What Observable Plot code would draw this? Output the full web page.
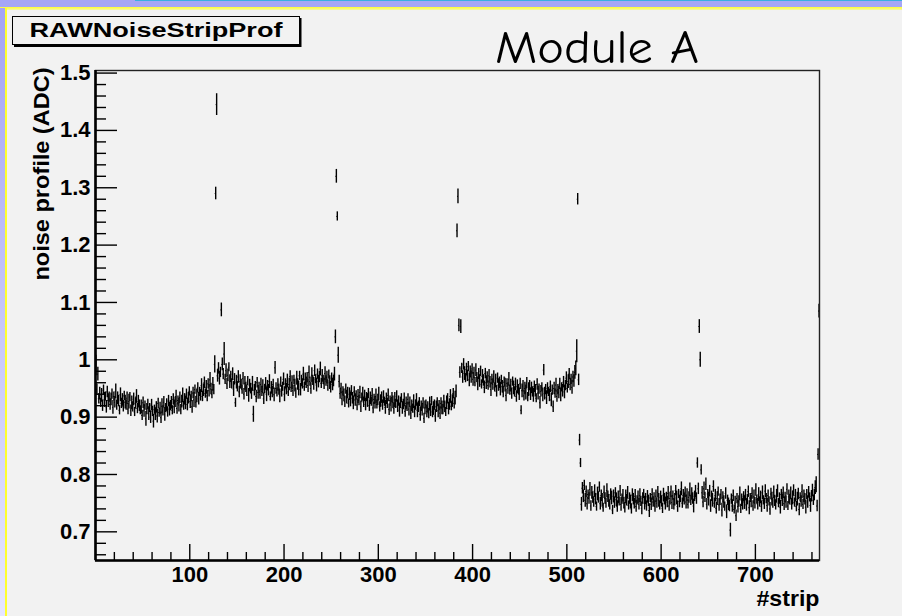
<!DOCTYPE html>
<html><head><meta charset="utf-8">
<script src="https://cdn.jsdelivr.net/npm/d3@7"></script>
<script src="https://cdn.jsdelivr.net/npm/@observablehq/plot@0.6"></script>
<style>
html,body{margin:0;padding:0;background:#f2f2f2;}
#page{position:relative;width:902px;height:616px;overflow:hidden;background:#f2f2f2;}
.deco{position:absolute;}
#chart{position:absolute;left:0;top:0;}
#head{position:absolute;left:0;top:0;pointer-events:none;overflow:visible;}
</style></head><body>
<div id="page">
  <div class="deco" style="left:0;top:0;width:902px;height:8px;background:#a6a6f6"></div>
  <div class="deco" style="left:135px;top:0;width:767px;height:1px;background:#38b0e0"></div>
  <div class="deco" style="left:0;top:7px;width:902px;height:3px;background:linear-gradient(#ffff30,#f6f6a8)"></div>
  <div class="deco" style="left:0;top:8px;width:5px;height:608px;background:linear-gradient(#a4a4f4,#e6e6ff)"></div>
  <div class="deco" style="left:5px;top:8px;width:2px;height:608px;background:#ffff30"></div>
  <div id="chart"></div>
  <svg id="head" width="902" height="110"></svg>
</div>
<script>
// ---- texts ----
const histTitle = "RAWNoiseStripProf";
const moduleTitle = "Module A";
const xTitle = "#strip";
const yTitle = "noise profile (ADC)";

// ---- tick values / labels ----
const xTickValues = [100, 200, 300, 400, 500, 600, 700];
const xTickLabels = ["100", "200", "300", "400", "500", "600", "700"];
const yTickValues = [0.7, 0.8, 0.9, 1.0, 1.1, 1.2, 1.3, 1.4, 1.5];
const yTickLabels = ["0.7", "0.8", "0.9", "1", "1.1", "1.2", "1.3", "1.4", "1.5"];

// ---- noise per strip, in 1/1000 ADC, one array per APV chip (128 strips each) ----
const apv1Noise = [
990,948,975,932,941,925,938,920,947,930,936,918,944,929,935,922,
931,940,917,936,926,945,921,933,928,912,939,924,930,919,937,926,
921,933,914,927,935,911,925,918,931,909,924,936,915,927,920,912,
918,903,925,911,920,897,914,922,906,916,900,921,910,893,913,905,
917,902,924,908,915,899,919,911,926,905,916,921,909,928,914,920,
925,912,931,918,926,936,915,929,921,934,913,927,938,920,931,925,
940,922,933,945,927,936,918,942,930,948,926,937,951,932,944,938,
955,936,947,960,941,952,937,958,946,965,949,940,957,948,992,1290];
const apv2Noise = [
1445,972,985,968,978,1087,992,975,1010,966,981,958,973,987,962,970,
958,975,949,966,925,961,953,970,944,962,957,948,967,940,959,952,
946,963,938,955,950,941,958,905,947,954,936,960,943,951,939,957,
945,953,932,949,958,940,955,947,962,936,951,944,957,939,986,950,
943,956,948,937,961,945,953,966,940,958,949,963,944,957,971,952,
960,946,965,955,942,968,957,950,972,948,963,958,975,953,966,960,
969,955,978,962,950,973,964,958,981,966,956,975,962,970,984,959,
972,965,958,976,963,969,955,974,960,952,968,957,963,975,1040,1320];
const apv3Noise = [
1250,1008,962,941,950,932,945,938,927,949,935,942,924,940,931,946,
933,925,944,930,938,921,936,929,943,918,934,940,926,937,922,935,
929,941,920,933,927,938,916,931,925,936,922,930,940,918,928,934,
921,935,927,917,932,924,938,913,929,921,934,926,915,930,923,936,
919,928,912,925,933,916,922,930,910,924,918,931,914,926,907,920,
915,927,909,921,930,912,918,926,905,919,913,924,898,916,922,910,
917,906,923,912,928,909,915,921,902,918,926,911,920,907,924,916,
913,927,918,909,925,932,915,922,936,919,928,941,924,933,945,1225];
const apv4Noise = [
1285,1060,978,1058,985,970,992,976,968,983,972,988,965,979,970,984,
966,977,961,982,969,958,975,963,980,957,971,964,952,976,960,969,
955,972,961,948,966,957,970,952,963,945,968,956,960,949,965,953,
944,961,956,938,959,950,966,947,955,941,962,951,944,957,936,953,
948,940,958,912,946,954,937,950,943,959,935,948,955,940,951,944,
938,953,946,933,957,942,949,925,945,952,939,982,941,948,934,950,
944,938,953,930,947,918,950,941,956,936,948,943,958,939,952,946,
961,944,955,968,950,962,975,957,966,952,970,963,978,985,1015,1280];
const apv5Noise = [
965,860,820,748,776,762,781,755,770,749,765,758,774,745,768,760,
752,771,757,744,766,760,778,749,763,755,742,769,758,750,772,761,
754,747,765,759,738,762,751,768,756,744,760,753,771,748,757,763,
750,742,761,755,768,746,758,752,740,764,757,749,762,744,755,760,
748,763,753,741,758,766,750,757,745,761,754,737,759,748,765,752,
756,744,762,750,769,755,746,760,753,741,764,757,749,761,752,767,
745,758,770,751,763,748,756,772,759,744,766,753,761,775,750,763,
757,769,752,764,748,760,773,755,766,758,745,762,770,758,820,775];
const apv6Noise = [
1058,1000,808,768,752,775,760,783,748,766,757,771,745,762,755,779,
750,763,741,758,770,747,756,765,738,760,752,744,767,735,755,748,
745,703,757,745,763,739,750,728,758,744,753,766,740,755,748,761,
751,764,747,756,770,742,759,753,767,745,761,750,773,756,748,765,
752,760,744,768,755,749,771,758,746,763,753,740,766,757,750,769,
754,747,762,771,750,758,743,765,755,768,749,760,752,774,745,761,
756,767,748,759,772,751,763,744,757,766,739,760,753,770,748,762,
757,743,765,752,769,760,746,762,772,755,764,777,782,745,835,1085];

// ---- error bar half-lengths, in 1/1000 ADC ----
const apv1Err = [
18,10,12,9,11,8,12,10,9,13,8,11,10,12,9,10,
11,9,12,8,10,13,9,11,10,8,12,9,11,10,8,12,
9,11,10,13,8,10,12,9,11,8,10,12,9,11,10,8,
12,9,10,11,8,13,10,9,12,8,11,10,9,12,8,11,
10,12,9,8,11,10,13,9,10,12,8,11,9,10,12,9,
11,8,10,12,9,11,10,8,12,10,9,11,13,8,10,12,
9,11,10,8,12,9,11,10,13,8,10,12,9,11,8,10,
12,9,11,10,8,12,10,9,11,13,10,8,12,9,15,11];
const apv2Err = [
19,11,10,12,9,12,11,10,20,9,12,10,11,8,12,10,
9,11,13,10,8,12,9,11,10,12,9,8,11,10,12,9,
10,8,12,11,9,10,13,14,10,8,11,9,12,10,8,11,
9,12,10,8,11,13,9,10,12,8,11,10,9,12,11,10,
8,11,10,12,9,10,8,11,13,9,10,12,8,11,10,9,
12,10,8,11,9,12,10,13,8,11,10,9,12,8,11,10,
9,12,11,8,10,13,9,11,10,8,12,9,11,10,12,9,
11,8,10,12,9,11,10,8,12,10,9,11,10,12,12,12];
const apv3Err = [
8,14,11,10,9,12,8,11,10,9,12,10,8,11,13,9,
10,12,9,11,8,10,12,9,11,10,8,12,9,10,11,8,
12,9,10,11,8,12,10,9,11,13,8,10,12,9,11,10,
9,11,8,12,10,9,11,10,8,12,9,11,10,13,8,10,
11,9,12,10,8,11,9,12,10,11,8,10,12,9,11,10,
8,12,10,9,11,13,10,8,12,9,11,10,9,12,8,11,
10,9,12,11,8,10,12,9,11,10,8,12,9,11,10,12,
9,11,10,8,12,9,11,10,12,8,11,9,10,12,11,12];
const apv4Err = [
13,11,10,12,9,11,10,12,8,11,10,9,12,10,11,9,
12,10,8,11,9,12,10,11,9,8,12,10,11,9,12,10,
8,11,10,12,9,10,11,8,12,10,9,11,10,12,8,11,
10,9,12,11,8,10,12,9,11,10,8,12,9,11,10,12,
9,11,10,8,12,10,9,11,13,10,8,12,9,11,10,9,
12,10,11,8,10,12,9,11,10,8,12,10,11,9,12,10,
8,11,10,12,9,10,11,8,12,10,9,11,10,12,8,11,
10,12,9,11,8,12,10,11,9,12,10,11,12,13,20,10];
const apv5Err = [
10,10,8,12,10,11,9,12,10,11,8,10,12,9,11,10,
9,11,10,8,12,10,9,11,10,12,8,11,10,9,12,10,
11,9,10,12,8,11,10,9,12,10,11,8,10,12,9,11,
10,9,12,10,11,8,10,12,9,11,10,9,12,10,8,11,
10,12,9,11,10,8,12,10,9,11,10,12,8,11,10,9,
12,10,11,9,10,12,8,11,10,9,12,10,11,8,10,12,
9,11,10,12,8,10,11,9,12,10,8,11,10,12,9,11,
10,9,12,11,8,10,12,9,11,10,12,9,11,10,9,10];
const apv6Err = [
12,13,9,11,10,12,9,11,10,8,12,10,11,9,12,10,
9,11,10,12,8,11,10,9,12,10,11,8,10,12,9,11,
10,12,9,11,10,8,12,10,9,11,10,12,8,11,10,9,
12,10,11,9,10,12,8,11,10,9,12,10,11,8,10,12,
9,11,10,12,8,10,11,9,12,10,8,11,10,12,9,11,
10,9,12,11,8,10,12,9,11,10,12,9,11,10,8,12,
9,11,10,12,10,8,11,9,12,10,11,8,10,12,9,11,
10,12,9,11,10,8,12,10,11,9,10,12,14,10,10,12];

// ---- build table ----
const chipNoise = [apv1Noise, apv2Noise, apv3Noise, apv4Noise, apv5Noise, apv6Noise];
const chipErr = [apv1Err, apv2Err, apv3Err, apv4Err, apv5Err, apv6Err];
chipNoise.forEach((a, c) => { if (a.length !== 128 || chipErr[c].length !== 128) throw new Error("chip " + (c+1) + " length " + a.length + "/" + chipErr[c].length); });
const bins = [];
chipNoise.forEach((vals, c) => vals.forEach((v, i) => {
  const s = c * 128 + i, e = chipErr[c][i];
  bins.push({strip: s, xc: s + 0.5, x0: s, x1: s + 1, v: v / 1000, lo: (v - e) / 1000, hi: (v + e) / 1000});
}));

const yMinor = d3.range(33, 76).map(k => k * 0.02).filter(v => v > 0.65 && v <= 1.5 && !yTickValues.some(t => Math.abs(t - v) < 1e-6));
const xMinor = d3.range(20, 768, 20).filter(v => v % 100 !== 0);

const font = "'Liberation Sans', Arial, Helvetica, sans-serif";
const chart = Plot.plot({
  width: 902, height: 616,
  marginLeft: 95, marginRight: 83, marginTop: 70, marginBottom: 56,
  style: {background: "transparent", fontFamily: font, fontWeight: "bold", fontSize: "22px", color: "#000", overflow: "visible"},
  x: {domain: [0, 768]},
  y: {domain: [0.65, 1.5045]},
  marks: [
    Plot.ruleX(bins, {x: "xc", y1: "lo", y2: "hi", stroke: "#000", strokeWidth: 1.4}),
    Plot.ruleY(bins, {y: "v", x1: "x0", x2: "x1", stroke: "#000", strokeWidth: 1}),
    Plot.frame({stroke: "#222", strokeWidth: 1.4}),
    Plot.ruleX([0], {stroke: "#000", strokeWidth: 2.6}),
    Plot.ruleY([0.65], {stroke: "#000", strokeWidth: 2.6}),
    Plot.axisY(yTickValues, {anchor: "left", tickSize: -22, fill: "none", label: null, strokeWidth: 1.4}),
    Plot.axisY(yMinor, {anchor: "left", tickSize: -11, fill: "none", label: null, strokeWidth: 1.4}),
    Plot.axisY(yTickValues, {anchor: "left", tickSize: 0, tickPadding: 5, label: null, tickFormat: d => yTickLabels[yTickValues.indexOf(d)]}),
    Plot.axisX(xTickValues, {anchor: "bottom", tickSize: -16, fill: "none", label: null, strokeWidth: 1.4}),
    Plot.axisX(xMinor, {anchor: "bottom", tickSize: -8, fill: "none", label: null, strokeWidth: 1.4}),
    Plot.axisX(xTickValues, {anchor: "bottom", tickSize: 0, tickPadding: 6, label: null, tickFormat: d => xTickLabels[xTickValues.indexOf(d)]}),
    Plot.text([yTitle], {text: d => d, frameAnchor: "top-left", dx: -54, dy: -3, rotate: -90, textAnchor: "end", lineAnchor: "middle", fill: "#000"}),
    Plot.text([xTitle], {text: d => d, frameAnchor: "bottom-right", dy: 45.5, textAnchor: "end", lineAnchor: "bottom", fill: "#000"})
  ]
});
document.getElementById("chart").appendChild(chart);
d3.select(chart).selectAll("text").each(function() {
  const t = this.textContent;
  if (t === yTitle) d3.select(this).attr("textLength", 213).attr("lengthAdjust", "spacingAndGlyphs");
  if (t === xTitle) d3.select(this).attr("textLength", 63).attr("lengthAdjust", "spacingAndGlyphs");
});

// ---- header: title box and module label ----
const head = d3.select("#head");
head.append("rect").attr("x", 12.5).attr("y", 16.5).attr("width", 287).attr("height", 28)
  .attr("fill", "#f2f2f2").attr("stroke", "#000").attr("stroke-width", 1);
head.append("path").attr("d", "M300.5 18 V46 H14").attr("fill", "none").attr("stroke", "#000").attr("stroke-width", 2);
head.append("text").attr("x", 156).attr("y", 36.5).attr("text-anchor", "middle")
  .attr("font-family", font).attr("font-weight", "bold").attr("font-size", 21)
  .attr("textLength", 253).attr("lengthAdjust", "spacingAndGlyphs").text(histTitle);
head.append("text").attr("x", 495).attr("y", 63)
  .attr("font-family", "'Comic Sans MS', 'Comic Neue', 'DejaVu Sans', sans-serif").attr("font-size", 46)
  .attr("textLength", 204).attr("lengthAdjust", "spacingAndGlyphs").text(moduleTitle);
</script>
</body></html>
